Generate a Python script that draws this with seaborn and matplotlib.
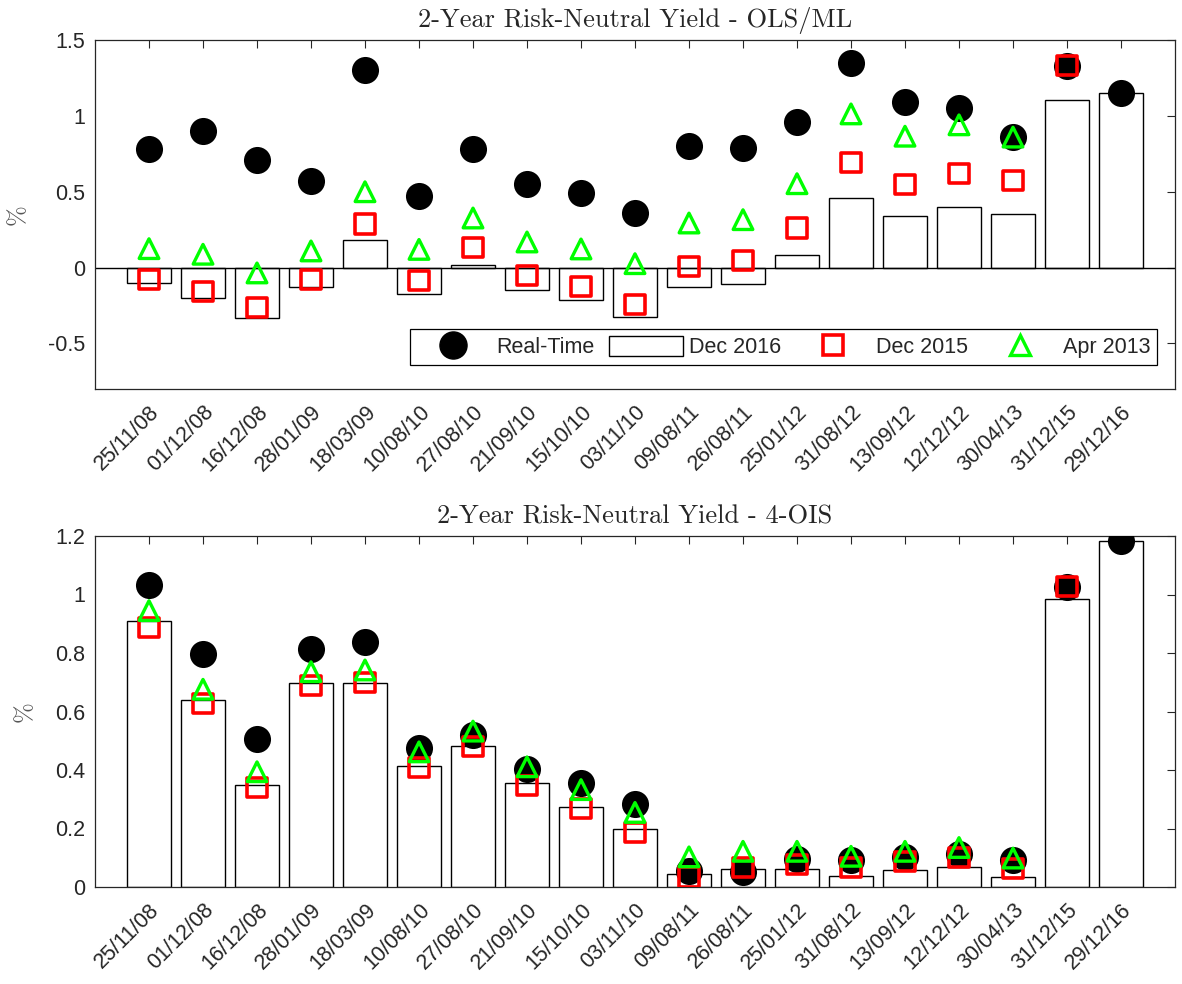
import numpy as np
import seaborn as sns
import matplotlib.pyplot as plt
from matplotlib.lines import Line2D
from matplotlib.patches import Patch

nan = np.nan

dates = ['25/11/08', '01/12/08', '16/12/08', '28/01/09', '18/03/09', '10/08/10',
         '27/08/10', '21/09/10', '15/10/10', '03/11/10', '09/08/11', '26/08/11',
         '25/01/12', '31/08/12', '13/09/12', '12/12/12', '30/04/13', '31/12/15',
         '29/12/16']

# top panel: OLS/ML
ols_real = [0.78, 0.90, 0.71, 0.57, 1.30, 0.47, 0.78, 0.55, 0.49, 0.36,
            0.80, 0.79, 0.96, 1.35, 1.09, 1.05, 0.86, 1.33, 1.15]
ols_dec16 = [-0.10, -0.20, -0.335, -0.13, 0.185, -0.175, 0.02, -0.145, -0.215, -0.325,
             -0.13, -0.105, 0.083, 0.46, 0.342, 0.397, 0.355, 1.103, 1.151]
ols_dec15 = [-0.077, -0.16, -0.265, -0.077, 0.287, -0.086, 0.132, -0.05, -0.125, -0.243,
             0.009, 0.048, 0.261, 0.693, 0.548, 0.621, 0.572, 1.331, nan]
ols_apr13 = [0.125, 0.088, -0.035, 0.11, 0.50, 0.12, 0.327, 0.169, 0.123, 0.026,
             0.294, 0.316, 0.553, 1.013, 0.866, 0.941, 0.86, nan, nan]

# bottom panel: 4-OIS
ois_real = [1.032, 0.795, 0.507, 0.813, 0.838, 0.476, 0.519, 0.405, 0.357, 0.283,
            0.055, 0.051, 0.097, 0.091, 0.103, 0.114, 0.091, 1.027, 1.184]
ois_dec16 = [0.908, 0.638, 0.348, 0.697, 0.697, 0.414, 0.481, 0.354, 0.274, 0.199,
             0.043, 0.062, 0.062, 0.038, 0.057, 0.067, 0.035, 0.985, 1.183]
ois_dec15 = [0.888, 0.627, 0.339, 0.688, 0.70, 0.409, 0.479, 0.347, 0.269, 0.187,
             0.034, 0.068, 0.078, 0.068, 0.086, 0.10, 0.063, 1.027, nan]
ois_apr13 = [0.945, 0.676, 0.394, 0.736, 0.742, 0.462, 0.533, 0.411, 0.333, 0.255,
             0.103, 0.122, 0.122, 0.105, 0.122, 0.135, 0.099, nan, nan]

sns.set_style('white')
plt.rcParams['font.family'] = ['Liberation Sans', 'DejaVu Sans']

fig = plt.figure(figsize=(11.82, 9.84), dpi=100)
ax1 = fig.add_axes([95 / 1182, 1 - 389 / 984, 1080 / 1182, 349 / 984])
ax2 = fig.add_axes([95 / 1182, 1 - 887 / 984, 1080 / 1182, 351 / 984])

xpos = np.arange(len(dates))
grey = '#262626'


def panel(ax, real, dec16, dec15, apr13, title, yticks, ylabels, ylim):
    sns.barplot(x=xpos, y=dec16, ax=ax, color='white', edgecolor='black',
                linewidth=1, width=0.8, saturation=1, native_scale=True, zorder=1)
    sns.scatterplot(x=xpos, y=real, ax=ax, marker='o', s=380, color='black',
                    edgecolor='black', linewidth=0, zorder=3)
    sns.scatterplot(x=xpos, y=dec15, ax=ax, marker='s', s=190, facecolor='none',
                    edgecolor='#ff0000', linewidth=2.6, zorder=4)
    sns.scatterplot(x=xpos, y=apr13, ax=ax, marker='^', s=200, facecolor='none',
                    edgecolor='#00ff00', linewidth=2.4, zorder=5)
    ax.set_xlim(-1, len(dates))
    ax.set_ylim(*ylim)
    ax.set_xticks(xpos)
    ax.set_xticklabels(dates, rotation=45, ha='right', va='top',
                       rotation_mode='anchor', fontsize=15.5, color=grey)
    ax.set_yticks(yticks)
    ax.set_yticklabels(ylabels, fontsize=15.5, color=grey)
    ax.tick_params(direction='in', length=6, width=0.8, top=True, right=True,
                   color=grey, pad=7)
    ax.tick_params(axis='x', pad=9)
    for s in ax.spines.values():
        s.set_color(grey)
        s.set_linewidth(0.9)
    ax.set_title(title, fontname='cmr10', fontsize=19, pad=9)
    ax.set_ylabel('%', fontname='cmr10', fontsize=18, color='#555555', labelpad=14)
    ax.set_xlabel('')


panel(ax1, ols_real, ols_dec16, ols_dec15, ols_apr13,
      '2-Year Risk-Neutral Yield - OLS/ML',
      [-0.5, 0, 0.5, 1, 1.5], ['-0.5', '0', '0.5', '1', '1.5'], (-0.8, 1.5))
ax1.axhline(0, color='black', linewidth=1, zorder=2)

panel(ax2, ois_real, ois_dec16, ois_dec15, ois_apr13,
      '2-Year Risk-Neutral Yield - 4-OIS',
      [0, 0.2, 0.4, 0.6, 0.8, 1, 1.2], ['0', '0.2', '0.4', '0.6', '0.8', '1', '1.2'],
      (0, 1.2))

handles = [
    Line2D([], [], linestyle='none', marker='o', markersize=19.5, color='black'),
    Patch(facecolor='white', edgecolor='black', linewidth=1),
    Line2D([], [], linestyle='none', marker='s', markersize=14, markerfacecolor='none',
           markeredgecolor='#ff0000', markeredgewidth=2.6),
    Line2D([], [], linestyle='none', marker='^', markersize=14, markerfacecolor='none',
           markeredgecolor='#00ff00', markeredgewidth=2.4),
]
leg = ax1.legend(handles, ['Real-Time', 'Dec 2016', 'Dec 2015', 'Apr 2013'],
                 ncol=4, loc='lower right', bbox_to_anchor=(0.983, 0.069),
                 fontsize=15.5, frameon=True, fancybox=False, framealpha=1,
                 edgecolor='black', handlelength=3.4, handleheight=1.1,
                 handletextpad=0.3, columnspacing=0.7, borderpad=0.3,
                 borderaxespad=0)
leg.get_frame().set_linewidth(0.9)

fig.savefig('out.png', dpi=100)
